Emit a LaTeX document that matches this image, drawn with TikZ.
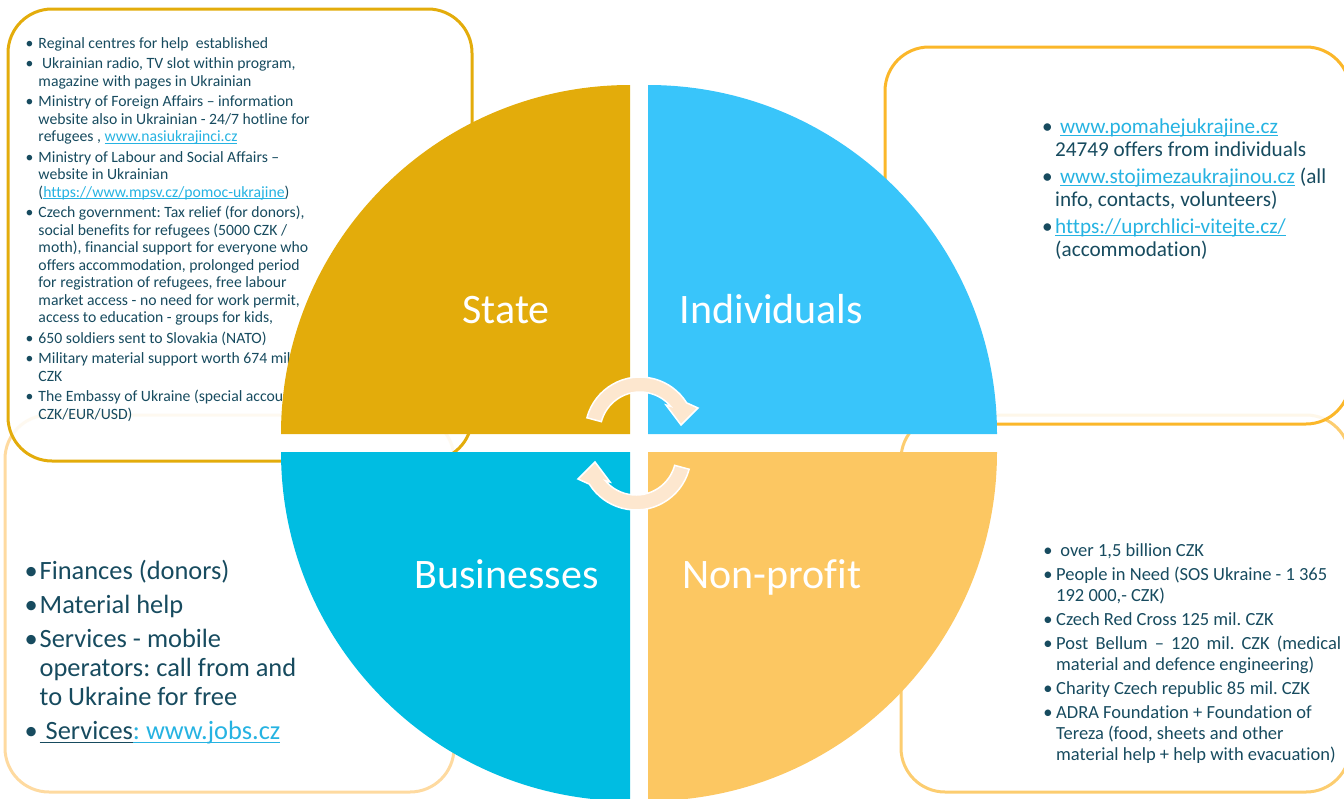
\documentclass[tikz,border=0pt]{standalone}
\usepackage{fontspec}
\setmainfont{Carlito}[Ligatures={NoCommon}]
\usetikzlibrary{calc}
\definecolor{statec}{HTML}{E3AC0B}
\definecolor{indc}{HTML}{39C5FA}
\definecolor{busc}{HTML}{00BDE2}
\definecolor{npc}{HTML}{FCC762}
\definecolor{arrc}{HTML}{FDE7CF}
\definecolor{txtc}{HTML}{174B5F}
\definecolor{linkc}{HTML}{26B3E2}
\definecolor{stateline}{HTML}{E3AC0B}
\definecolor{indline}{HTML}{FBB72A}
\definecolor{busline}{HTML}{FEDAA0}
\definecolor{npline}{HTML}{FCCD70}
\newlength{\bind}
\newsavebox{\ulbox}
\newcommand{\myul}[1]{\sbox{\ulbox}{#1}\leavevmode\rlap{\rule[-0.13em]{\wd\ulbox}{0.065em}}\usebox{\ulbox}}
\newcommand{\bitem}[1]{\par\hangindent=\bind\hangafter=1\noindent\makebox[\bind][l]{\textbullet}#1\par}
\newcommand{\nl}{\hfil\break}
\newcommand{\lnk}[1]{\textcolor{linkc}{\myul{#1}}}
\tikzset{
  boxsty/.style={rectangle, rounded corners=44pt, line width=3pt, inner sep=0},
  topbox/.style={boxsty, fill=white, fill opacity=0.85},
  txt/.style={anchor=base west, inner sep=0, text=txtc},
  lab/.style={anchor=base, inner sep=0, text=white, font=\fontsize{42pt}{50pt}\selectfont},
  arrsty/.style={fill=arrc, draw=white, line width=1.5pt, line join=miter}
}
\begin{document}
\frenchspacing
\begin{tikzpicture}[x=1pt, y=-1pt]
\useasboundingbox (0,0) rectangle (1344,798);
% boxes
\node[boxsty, draw=busline, minimum width=449pt, minimum height=377pt] (busBox) at (229.5,603.5) {};
\node[boxsty, draw=npline, minimum width=449pt, minimum height=377pt] (npBox) at (1125.5,603.5) {};
\node[topbox, draw=stateline, minimum width=464pt, minimum height=452pt] (stateBox) at (240,235) {};
\node[topbox, draw=indline, minimum width=465pt, minimum height=377pt] (indBox) at (1117.5,235.5) {};
% texts
\node[txt] (stateTxt) at (25.3,48.3) {\begin{minipage}[t]{400pt}\frenchspacing\fontsize{15.7pt}{17.5pt}\selectfont\setlength{\parskip}{3pt}\setlength{\bind}{13pt}%
\bitem{Reginal centres for help~ established}
\bitem{\ Ukrainian radio, TV slot within program,\nl magazine with pages in Ukrainian}
\bitem{Ministry of Foreign Affairs – information\nl website also in Ukrainian - 24/7 hotline for\nl refugees , \lnk{www.nasiukrajinci.cz}}
\bitem{Ministry of Labour and Social Affairs –\nl website in Ukrainian\nl (\lnk{https://www.mpsv.cz/pomoc-ukrajine})}
\bitem{Czech government: Tax relief (for donors),\nl social benefits for refugees (5000 CZK /\nl moth), financial support for everyone who\nl offers accommodation, prolonged period\nl for registration of refugees, free labour\nl market access - no need for work permit,\nl access to education - groups for kids,}
\bitem{650 soldiers sent to Slovakia (NATO)}
\bitem{Military material support worth 674 mil.\nl CZK}
\bitem{The Embassy of Ukraine (special account\nl CZK/EUR/USD)}
\end{minipage}};
\node[txt] (indTxt) at (1042,133.3) {\begin{minipage}[t]{300pt}\frenchspacing\fontsize{21.2pt}{23pt}\selectfont\setlength{\parskip}{4pt}\setlength{\bind}{13pt}%
\bitem{\ \lnk{www.pomahejukrajine.cz}\nl 24749 offers from individuals}
\bitem{\ \lnk{www.stojimezaukrajinou.cz} (all\nl info, contacts, volunteers)}
\bitem{\lnk{https://uprchlici-vitejte.cz/}\nl (accommodation)}
\end{minipage}};
\node[txt] (npTxt) at (1043.2,556) {\begin{minipage}[t]{300pt}\frenchspacing\fontsize{18.5pt}{21pt}\selectfont\setlength{\parskip}{3pt}\setlength{\bind}{12.8pt}%
\bitem{\ over 1,5 billion CZK}
\bitem{People in Need (SOS Ukraine - 1 365\nl 192 000,- CZK)}
\bitem{Czech Red Cross 125 mil. CZK}
\bitem{\makebox[285pt][s]{Post Bellum – 120 mil. CZK (medical}\nl material and defence engineering)}
\bitem{Charity Czech republic 85 mil. CZK}
\bitem{ADRA Foundation + Foundation of\nl Tereza (food, sheets and other\nl material help + help with evacuation)}
\end{minipage}};
\node[txt] (busTxt) at (24.5,579) {\begin{minipage}[t]{400pt}\frenchspacing\fontsize{26.4pt}{29pt}\selectfont\setlength{\parskip}{5.3pt}\setlength{\bind}{15pt}%
\bitem{Finances (donors)}
\bitem{Material help}
\bitem{Services - mobile\nl operators: call from and\nl to Ukraine for free}
\bitem{\myul{\ Services}\lnk{: www.jobs.cz}}
\end{minipage}};
% quadrants
\fill[statec] (630,434) -- ++(-349,0) arc[start angle=180, end angle=270, radius=349] -- cycle;
\fill[indc] (648,434) -- ++(349,0) arc[start angle=0, end angle=-90, radius=349] -- cycle;
\fill[busc] (630,452) -- ++(-349,0) arc[start angle=180, end angle=90, radius=349] -- cycle;
\fill[npc] (648,452) -- ++(349,0) arc[start angle=0, end angle=90, radius=349] -- cycle;
% cycle arrows
\path[arrsty] ($(640,432)+(-165:55)$) arc[start angle=-165, end angle=-32, radius=55] -- (698,408) -- (681,425) -- (666,405) -- ($(640,432)+(-40:40)$) arc[start angle=-40, end angle=-165, radius=40] -- cycle;
\begin{scope}[rotate around={180:(638,443.5)}]
\path[arrsty] ($(640,432)+(-165:55)$) arc[start angle=-165, end angle=-32, radius=55] -- (698,408) -- (681,425) -- (666,405) -- ($(640,432)+(-40:40)$) arc[start angle=-40, end angle=-165, radius=40] -- cycle;
\end{scope}
% labels
\node[lab] (stateLab) at (506,323.5) {State};
\node[lab] (indLab) at (771.5,323.5) {Individuals};
\node[lab] (busLab) at (506.5,588.5) {Businesses};
\node[lab] (npLab) at (772,588.5) {Non-profit};
\end{tikzpicture}
\end{document}
